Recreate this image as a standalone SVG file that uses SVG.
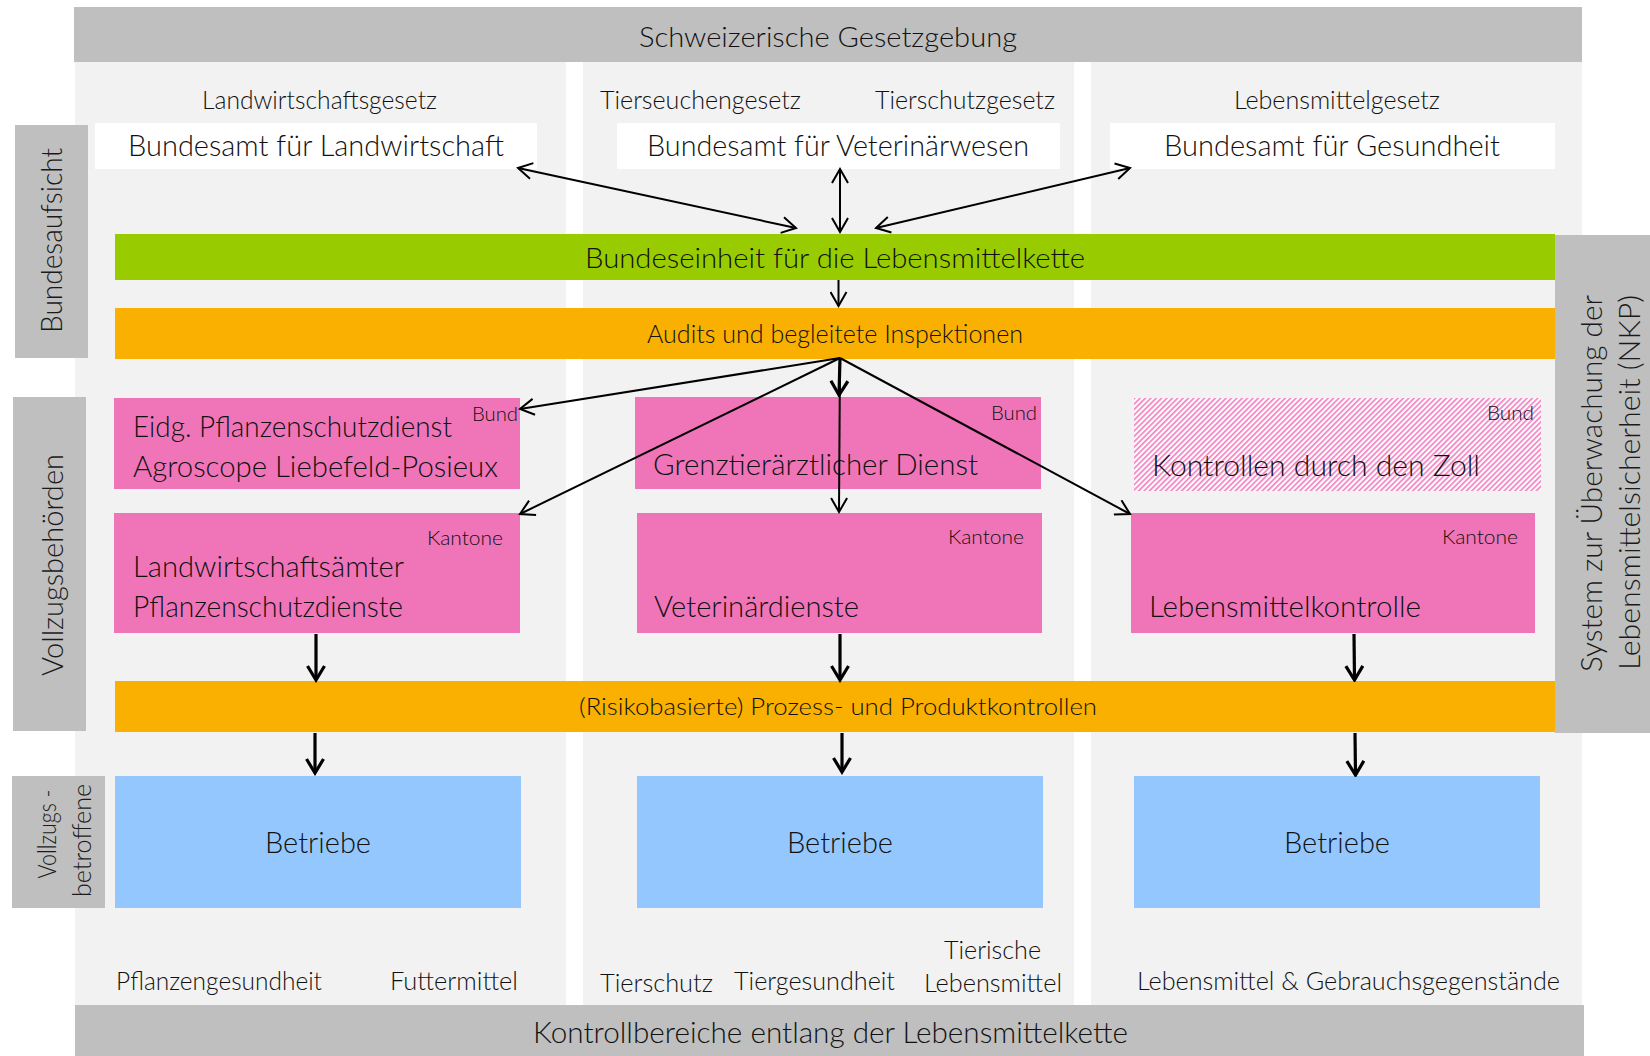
<svg xmlns="http://www.w3.org/2000/svg" width="1650" height="1056" viewBox="0 0 1650 1056">
<style>
.t{font-family:Lato,'Liberation Sans',sans-serif;font-weight:300;fill:#111;}
.v{font-family:Lato,'Liberation Sans',sans-serif;font-weight:300;fill:#1a1a1a;}
.band{fill:#BFBFBF;}
.col{fill:#F2F2F2;}
.lab{fill:#BFBFBF;}
.white{fill:#FFFFFF;}
.green{fill:#99CC00;}
.orange{fill:#F9B000;}
.pink{fill:#F075B8;}
.blue{fill:#94C7FE;}
.c{fill:none;stroke:#000;stroke-width:2;}
.cb{fill:none;stroke:#000;stroke-width:3.2;}
</style>
<defs>
<pattern id="hatch" patternUnits="userSpaceOnUse" width="3.8" height="3.8" patternTransform="rotate(45)">
<rect width="3.8" height="3.8" fill="#FFFFFF"/>
<rect width="1.7" height="3.8" fill="#F383C3"/>
</pattern>
<marker id="ah" viewBox="0 0 17 18" refX="15" refY="9" markerWidth="17" markerHeight="18" markerUnits="userSpaceOnUse" orient="auto-start-reverse">
<path d="M1,1 L15,9 L1,17" fill="none" stroke="#000" stroke-width="2"/>
</marker>
<marker id="ahb" viewBox="0 0 18 20" refX="15.5" refY="10" markerWidth="18" markerHeight="20" markerUnits="userSpaceOnUse" orient="auto-start-reverse">
<path d="M1.5,1.5 L15.5,10 L1.5,18.5" fill="none" stroke="#000" stroke-width="3.2"/>
</marker>
</defs>

<rect width="1650" height="1056" fill="#FFFFFF"/>

<g id="columns">
<rect class="col" x="75" y="62" width="491" height="943"/>
<rect class="col" x="583" y="62" width="491" height="943"/>
<rect class="col" x="1091" y="62" width="491" height="943"/>
</g>

<g id="top-band">
<rect class="band" x="74" y="7" width="1508" height="55"/>
<text class="t" x="639" y="47" font-size="28" textLength="378" lengthAdjust="spacingAndGlyphs">Schweizerische Gesetzgebung</text>
</g>

<g id="bottom-band">
<rect class="band" x="75" y="1005" width="1509" height="51"/>
<text class="t" x="533" y="1043" font-size="29" textLength="595" lengthAdjust="spacingAndGlyphs">Kontrollbereiche entlang der Lebensmittelkette</text>
</g>

<g id="laws">
<text class="t" x="202" y="109" font-size="25" textLength="235" lengthAdjust="spacingAndGlyphs">Landwirtschaftsgesetz</text>
<text class="t" x="600" y="109" font-size="25" textLength="201" lengthAdjust="spacingAndGlyphs">Tierseuchengesetz</text>
<text class="t" x="875" y="109" font-size="25" textLength="180" lengthAdjust="spacingAndGlyphs">Tierschutzgesetz</text>
<text class="t" x="1234" y="109" font-size="25" textLength="206" lengthAdjust="spacingAndGlyphs">Lebensmittelgesetz</text>
</g>

<g id="label-bundesaufsicht">
<rect class="lab" x="15" y="125" width="73" height="233"/>
<text class="v" transform="translate(62,333) rotate(-90)" font-size="30" textLength="185" lengthAdjust="spacingAndGlyphs">Bundesaufsicht</text>
</g>

<g id="label-vollzugsbehoerden">
<rect class="lab" x="13" y="397" width="73" height="334"/>
<text class="v" transform="translate(62.5,676) rotate(-90)" font-size="30" textLength="222" lengthAdjust="spacingAndGlyphs">Vollzugsbehörden</text>
</g>

<g id="label-vollzugsbetroffene">
<rect class="lab" x="12" y="776" width="93" height="132"/>
<text class="v" transform="translate(56,878.5) rotate(-90)" font-size="26" textLength="89" lengthAdjust="spacingAndGlyphs">Vollzugs -</text>
<text class="v" transform="translate(90.5,897) rotate(-90)" font-size="26" textLength="113" lengthAdjust="spacingAndGlyphs">betroffene</text>
</g>

<g id="label-nkp">
<rect class="lab" x="1555" y="235" width="95" height="498"/>
<text class="v" transform="translate(1602,672) rotate(-90)" font-size="30" textLength="377" lengthAdjust="spacingAndGlyphs">System zur Überwachung der</text>
<text class="v" transform="translate(1640,670) rotate(-90)" font-size="30" textLength="375" lengthAdjust="spacingAndGlyphs">Lebensmittelsicherheit (NKP)</text>
</g>

<g id="blw">
<rect class="white" x="95" y="123" width="442" height="46"/>
<text class="t" x="128" y="156" font-size="30" textLength="376" lengthAdjust="spacingAndGlyphs">Bundesamt für Landwirtschaft</text>
</g>
<g id="bvet">
<rect class="white" x="617" y="123" width="443" height="46"/>
<text class="t" x="647" y="156" font-size="30" textLength="382" lengthAdjust="spacingAndGlyphs">Bundesamt für Veterinärwesen</text>
</g>
<g id="bag">
<rect class="white" x="1110" y="123" width="445" height="46"/>
<text class="t" x="1164" y="156" font-size="30" textLength="336" lengthAdjust="spacingAndGlyphs">Bundesamt für Gesundheit</text>
</g>

<g id="blk">
<rect class="green" x="115" y="234" width="1440" height="46"/>
<text class="t" x="585" y="268" font-size="28" textLength="500" lengthAdjust="spacingAndGlyphs">Bundeseinheit für die Lebensmittelkette</text>
</g>

<g id="audits">
<rect class="orange" x="115" y="308" width="1440" height="51"/>
<text class="t" x="647" y="343" font-size="24.5" textLength="376" lengthAdjust="spacingAndGlyphs">Audits und begleitete Inspektionen</text>
</g>

<g id="eidg-pflanzenschutzdienst">
<rect class="pink" x="114" y="398" width="406" height="91"/>
<text class="t" x="472" y="421" font-size="20" textLength="46" lengthAdjust="spacingAndGlyphs">Bund</text>
<text class="t" x="133" y="437" font-size="29" textLength="319" lengthAdjust="spacingAndGlyphs">Eidg. Pflanzenschutzdienst</text>
<text class="t" x="133" y="477" font-size="29" textLength="365" lengthAdjust="spacingAndGlyphs">Agroscope Liebefeld-Posieux</text>
</g>

<g id="grenztieraerztlicher-dienst">
<rect class="pink" x="635" y="397" width="406" height="92"/>
<text class="t" x="991" y="420" font-size="20" textLength="46" lengthAdjust="spacingAndGlyphs">Bund</text>
<text class="t" x="653" y="475" font-size="29" textLength="325" lengthAdjust="spacingAndGlyphs">Grenztierärztlicher Dienst</text>
</g>

<g id="zoll">
<rect x="1134" y="398" width="407" height="93" fill="url(#hatch)"/>
<text class="t" x="1487" y="420" font-size="20" textLength="47" lengthAdjust="spacingAndGlyphs">Bund</text>
<text class="t" x="1152" y="476" font-size="29" textLength="328" lengthAdjust="spacingAndGlyphs">Kontrollen durch den Zoll</text>
</g>

<g id="landwirtschaftsaemter">
<rect class="pink" x="114" y="513" width="406" height="120"/>
<text class="t" x="427" y="545" font-size="20" textLength="76" lengthAdjust="spacingAndGlyphs">Kantone</text>
<text class="t" x="133" y="577" font-size="29" textLength="271" lengthAdjust="spacingAndGlyphs">Landwirtschaftsämter</text>
<text class="t" x="133" y="617" font-size="29" textLength="270" lengthAdjust="spacingAndGlyphs">Pflanzenschutzdienste</text>
</g>

<g id="veterinaerdienste">
<rect class="pink" x="637" y="513" width="405" height="120"/>
<text class="t" x="948" y="544" font-size="20" textLength="76" lengthAdjust="spacingAndGlyphs">Kantone</text>
<text class="t" x="654" y="617" font-size="29" textLength="205" lengthAdjust="spacingAndGlyphs">Veterinärdienste</text>
</g>

<g id="lebensmittelkontrolle">
<rect class="pink" x="1131" y="513" width="404" height="120"/>
<text class="t" x="1442" y="544" font-size="20" textLength="76" lengthAdjust="spacingAndGlyphs">Kantone</text>
<text class="t" x="1149" y="617" font-size="29" textLength="272" lengthAdjust="spacingAndGlyphs">Lebensmittelkontrolle</text>
</g>

<g id="prozesskontrollen">
<rect class="orange" x="115" y="681" width="1440" height="51"/>
<text class="t" x="579" y="715" font-size="24" textLength="518" lengthAdjust="spacingAndGlyphs">(Risikobasierte) Prozess- und Produktkontrollen</text>
</g>

<g id="betriebe-1">
<rect class="blue" x="115" y="776" width="406" height="132"/>
<text class="t" x="265" y="853" font-size="29" textLength="106" lengthAdjust="spacingAndGlyphs">Betriebe</text>
</g>
<g id="betriebe-2">
<rect class="blue" x="637" y="776" width="406" height="132"/>
<text class="t" x="787" y="853" font-size="29" textLength="106" lengthAdjust="spacingAndGlyphs">Betriebe</text>
</g>
<g id="betriebe-3">
<rect class="blue" x="1134" y="776" width="406" height="132"/>
<text class="t" x="1284" y="853" font-size="29" textLength="106" lengthAdjust="spacingAndGlyphs">Betriebe</text>
</g>

<g id="kontrollbereiche">
<text class="t" x="116" y="990" font-size="25" textLength="206" lengthAdjust="spacingAndGlyphs">Pflanzengesundheit</text>
<text class="t" x="390" y="990" font-size="25" textLength="128" lengthAdjust="spacingAndGlyphs">Futtermittel</text>
<text class="t" x="600" y="992" font-size="25" textLength="113" lengthAdjust="spacingAndGlyphs">Tierschutz</text>
<text class="t" x="734" y="990" font-size="25" textLength="161" lengthAdjust="spacingAndGlyphs">Tiergesundheit</text>
<text class="t" x="944" y="959" font-size="25" textLength="97" lengthAdjust="spacingAndGlyphs">Tierische</text>
<text class="t" x="924" y="992" font-size="25" textLength="138" lengthAdjust="spacingAndGlyphs">Lebensmittel</text>
<text class="t" x="1137" y="990" font-size="25" textLength="423" lengthAdjust="spacingAndGlyphs">Lebensmittel &amp; Gebrauchsgegenstände</text>
</g>

<g id="connectors">
<line class="c" x1="518" y1="168" x2="796" y2="228" marker-start="url(#ah)" marker-end="url(#ah)"/>
<line class="c" x1="840" y1="169" x2="840" y2="232" marker-start="url(#ah)" marker-end="url(#ah)"/>
<line class="c" x1="876" y1="228" x2="1130" y2="168" marker-start="url(#ah)" marker-end="url(#ah)"/>
<line class="c" x1="838.5" y1="280" x2="838.5" y2="306" marker-end="url(#ah)"/>
<line class="c" x1="840" y1="358" x2="520" y2="409" marker-end="url(#ah)"/>
<line class="c" x1="840" y1="358" x2="520" y2="514" marker-end="url(#ah)"/>
<line class="c" x1="840" y1="358" x2="839" y2="512" marker-end="url(#ah)"/>
<line class="c" x1="840" y1="358" x2="1130" y2="514" marker-end="url(#ah)"/>
<line class="cb" x1="840" y1="358" x2="839" y2="395" marker-end="url(#ahb)"/>
<line class="cb" x1="316" y1="634" x2="316" y2="680" marker-end="url(#ahb)"/>
<line class="cb" x1="840" y1="634" x2="840" y2="680" marker-end="url(#ahb)"/>
<line class="cb" x1="1354" y1="634" x2="1354.5" y2="680" marker-end="url(#ahb)"/>
<line class="cb" x1="315" y1="733" x2="315" y2="773" marker-end="url(#ahb)"/>
<line class="cb" x1="842" y1="733" x2="842" y2="772" marker-end="url(#ahb)"/>
<line class="cb" x1="1355" y1="733" x2="1355.5" y2="775" marker-end="url(#ahb)"/>
</g>
</svg>
